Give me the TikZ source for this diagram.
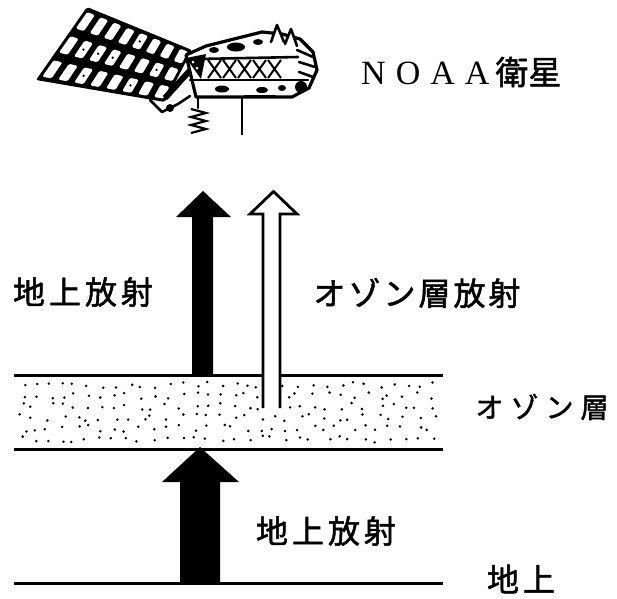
\documentclass[tikz,border=0pt]{standalone}
\usepackage{fontspec}
\newfontfamily\jpfont[FakeBold=1.5]{Noto Sans CJK JP}
\newfontfamily\latfont{Liberation Serif}
\usetikzlibrary{calc}
\begin{document}
\begin{tikzpicture}[x=1pt,y=-1pt,
  biglabel/.style={font=\jpfont\fontsize{32}{36}\selectfont, inner sep=0pt},
  smalllabel/.style={font=\jpfont\fontsize{28}{30}\selectfont, inner sep=0pt},
  layerline/.style={line width=3pt},
  solidarrow/.style={fill=black},
  hollowarrow/.style={draw=black, line width=2.8pt, fill=white, line join=miter},
  sat/.style={line width=2.6pt, line join=round, line cap=round}]
\useasboundingbox (0,0) rectangle (617,598);

% ---------- satellite: solar panel ----------
\coordinate (PA) at (87,7);
\coordinate (PB) at (192,50);
\coordinate (PC) at (165,102);
\coordinate (PD) at (36,80);
\fill[rounded corners=2pt] (PA) -- (PB) -- (PC) -- (PD) -- cycle;
\foreach \i in {0,...,7}{
  \foreach \j in {0,...,2}{
    \pgfmathsetmacro\ua{(\i+0.22)/8}
    \pgfmathsetmacro\ub{(\i+0.8)/8}
    \pgfmathsetmacro\va{(\j+0.16)/3}
    \pgfmathsetmacro\vb{(\j+0.84)/3}
    \coordinate (t1) at ($(PA)!\ua!(PB)$);
    \coordinate (b1) at ($(PD)!\ua!(PC)$);
    \coordinate (t2) at ($(PA)!\ub!(PB)$);
    \coordinate (b2) at ($(PD)!\ub!(PC)$);
    \fill[white, rounded corners=1.5pt]
      ($(t1)!\va!(b1)$) -- ($(t2)!\va!(b2)$) -- ($(t2)!\vb!(b2)$) -- ($(t1)!\vb!(b1)$) -- cycle;
  }
}
% small marks inside the cells
\foreach \i/\j in {1/1,2/1,3/1,4/0,5/2,6/1,2/2}{
  \pgfmathsetmacro\ua{(\i+0.5)/8}
  \pgfmathsetmacro\va{(\j+0.5)/3}
  \coordinate (t1) at ($(PA)!\ua!(PB)$);
  \coordinate (b1) at ($(PD)!\ua!(PC)$);
  \fill ($(t1)!\va!(b1)$) circle (1.3pt);
}
% yoke between panel and body
\draw[line width=6pt] (165,98) -- (194,66);
\draw[sat] (150,100) -- (162,112) -- (178,104) -- (190,96);
\fill (170,108) circle (4pt);

% ---------- satellite: body ----------
\draw[line width=3.2pt, line join=round, fill=white] (186,55) -- (206,46) -- (234,39) -- (262,32) -- (282,34)
  -- (300,39) -- (313,52) -- (317,70) -- (309,88) -- (292,97) -- (196,97) -- cycle;
\draw[sat] (190,80) -- (308,80);
\draw[sat] (198,59) -- (298,57);
\fill (186,58) -- (206,54) -- (201,79) -- cycle;
\fill[white] (193,62) circle (1.5pt) (197,68) circle (1.5pt);
\foreach \x in {208,223,238,253,268}{
  \draw[line width=2pt] (\x,60) -- (\x+13,78) (\x+13,60) -- (\x,78);
}
% antennas and the end unit
\draw[sat, fill=white] (271,42) -- (277,25) -- (284,42);
\draw[sat, fill=white] (285,44) -- (291,29) -- (297,46);
\draw[sat] (297,50) -- (313,57) (299,62) -- (315,67) (299,72) -- (313,77);
\fill (301,87) circle (6pt);
\fill (222,89) ellipse (7pt and 3.5pt);
\fill (262,90) ellipse (6pt and 3pt);
\fill (282,88) ellipse (4pt and 3pt);
\fill (236,47) ellipse (9pt and 4.5pt);
\fill (214,50) ellipse (5pt and 3pt);
\fill (258,42) ellipse (5pt and 3pt);
\draw[sat] (245,96) -- (275,96);
% spring and boom
\draw[sat] (198,97) -- (198,108);
\draw[line width=2.2pt] (191,109) -- (206,113) -- (191,117) -- (206,121) -- (191,125) -- (206,129) -- (191,133);
\draw[line width=2.6pt] (242,97) -- (242,135);

\node[font=\latfont\fontsize{34}{36}\selectfont, inner sep=0pt, anchor=west] (sattxt) at (361,72)
  {N\kern10pt O\kern10pt A\kern10pt A\kern6pt{\jpfont\fontsize{33}{36}\selectfont 衛\kern0pt 星}};

% ---------- ozone layer ----------
\pgfmathsetseed{11}
\foreach \r in {0,...,5}{
  \foreach \c in {0,...,31}{
    \pgfmathsetmacro\xx{22+\c*13.2+rand*5}
    \pgfmathsetmacro\yy{385+\r*10.8+rand*3.5}
    \fill (\xx,\yy) circle (1.4pt);
  }
}
\coordinate (ltopL) at (14,375);
\coordinate (ltopR) at (443,375);
\coordinate (lbotL) at (14,449);
\coordinate (lbotR) at (443,449);
\coordinate (gndL) at (14,583);
\coordinate (gndR) at (443,583);
\draw[layerline] (ltopL) -- (ltopR);
\draw[layerline] (lbotL) -- (lbotR);
\draw[layerline] (gndL) -- (gndR);

% ---------- arrows ----------
% ground radiation below the layer
\fill[solidarrow] (180,583) -- (180,482) -- (162,482) -- (200,447) -- (239,482)
  -- (220,482) -- (220,583) -- cycle;
% ground radiation above the layer
\fill[solidarrow] (192,375) -- (192,217) -- (176,217) -- (203,191) -- (231,217)
  -- (213,217) -- (213,375) -- cycle;
% radiation emitted by the ozone layer
\draw[hollowarrow] (263,408) -- (263,214) -- (250,214) -- (273.5,191.5) -- (297,214)
  -- (280,214) -- (280,408);

% ---------- labels ----------
\node[biglabel] (lgup) at (83,292) {地\kern4pt 上\kern4pt 放\kern4pt 射};
\node[biglabel] (lozrad) at (417,293) {オ\kern3pt ゾ\kern3pt ン\kern3pt 層\kern3pt 放\kern3pt 射};
\node[smalllabel] (lozone) at (542,407) {オ\kern7pt ゾ\kern7pt ン\kern7pt 層};
\node[biglabel] (lgdown) at (326,531) {地\kern4pt 上\kern4pt 放\kern4pt 射};
\node[biglabel] (lground) at (521,579) {地\kern4pt 上};
\end{tikzpicture}
\end{document}
